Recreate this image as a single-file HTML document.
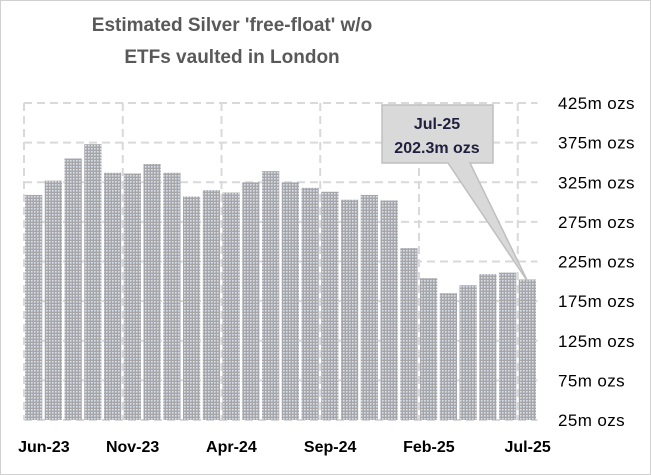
<!DOCTYPE html>
<html><head><meta charset="utf-8"><style>
body{margin:0;background:#fff;}
#wrap{width:651px;height:475px;position:relative;overflow:hidden;font-family:"Liberation Sans",sans-serif;}
</style></head><body>
<div id="wrap">
<svg id="chart" width="651" height="475">
<defs>
<pattern id="dots" width="3" height="3" patternUnits="userSpaceOnUse">
<rect width="3" height="3" fill="#a6a6a8"/>
<rect x="1" y="1" width="1.6" height="1.6" fill="#d8deec"/>
</pattern>
</defs>
<rect x="0.5" y="0.5" width="650" height="474" fill="#fff" stroke="#d0d0d0"/>
<text x="232" y="31" text-anchor="middle" font-size="19" font-weight="bold" fill="#595959">Estimated Silver 'free-float' w/o</text>
<text x="232" y="63" text-anchor="middle" font-size="19" font-weight="bold" fill="#595959">ETFs vaulted in London</text>
<g id="grid"></g>
<g id="bars"></g>
<g id="yticks"></g>
<g id="xticks"></g>
<g>
<polygon points="382,105 493,105 493,163 470,163 528,282 448,163 382,163" fill="#d9d9d9" stroke="#bfbfbf" stroke-width="1.5"/>
<text x="437" y="129" text-anchor="middle" font-size="16" font-weight="bold" fill="#1f1f3f">Jul-25</text>
<text x="437" y="153" text-anchor="middle" font-size="16" font-weight="bold" fill="#1f1f3f">202.3m ozs</text>
</g>
</svg>
</div>
<script>
const months=["Jun-23","Jul-23","Aug-23","Sep-23","Oct-23","Nov-23","Dec-23","Jan-24","Feb-24","Mar-24","Apr-24","May-24","Jun-24","Jul-24","Aug-24","Sep-24","Oct-24","Nov-24","Dec-24","Jan-25","Feb-25","Mar-25","Apr-25","May-25","Jun-25","Jul-25"];
const values=[309,327,355,373,337,336,348,337,307,315,312,325,339,325,318,313,303,309,302,242,204,185,195,209,211,202.3];
const yTicks=[25,75,125,175,225,275,325,375,425];
const xLabelIdx=[0,5,10,15,20,25];
const NS="http://www.w3.org/2000/svg";
const x0=24,pitch=19.75,yMin=25,yMax=425,yTop=103,yBot=420;
const y=v=>yBot-(v-yMin)/(yMax-yMin)*(yBot-yTop);
const xb=i=>x0+i*pitch;
function mk(t,a){const e=document.createElementNS(NS,t);for(const k in a)e.setAttribute(k,a[k]);return e;}
const grid=document.getElementById('grid');
yTicks.forEach(v=>{const l=mk('line',{x1:x0,x2:xb(months.length),y1:y(v),y2:y(v),stroke:'#d9d9d9','stroke-width':2,'stroke-dasharray':'8,5'});


grid.appendChild(l);});
for(let i=0;i<=months.length;i+=5){const l=mk('line',{x1:xb(i),x2:xb(i),y1:yTop,y2:yBot,stroke:'#d9d9d9','stroke-width':2,'stroke-dasharray':'8,5'});


grid.appendChild(l);}
const bars=document.getElementById('bars');
values.forEach((v,i)=>{const r=mk('rect',{x:xb(i)+1,y:y(v),width:pitch-2.5,height:yBot-y(v),fill:'url(#dots)'});


bars.appendChild(r);});
const yt=document.getElementById('yticks');
yTicks.forEach(v=>{const t=mk('text',{x:558,y:y(v)+6,'font-size':17,'letter-spacing':0.4,fill:'#000'});t.textContent=v+'m ozs';


yt.appendChild(t);});
const xt=document.getElementById('xticks');
xLabelIdx.forEach(i=>{const t=mk('text',{x:xb(i)+pitch/2+(i===0?10:0),y:452,'text-anchor':'middle','font-size':16,'font-weight':'bold',fill:'#000'});t.textContent=months[i];


xt.appendChild(t);});
</script>
</body></html>
